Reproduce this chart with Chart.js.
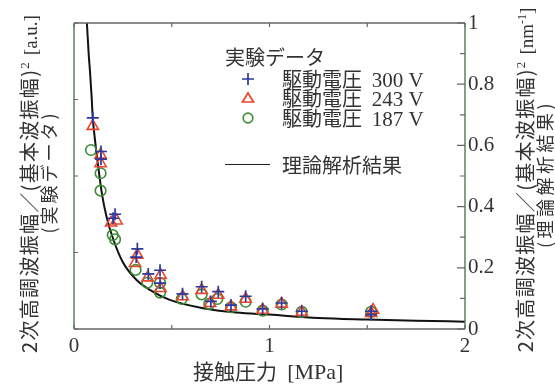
<!DOCTYPE html>
<html>
<head>
<meta charset="utf-8">
<script src="https://cdn.jsdelivr.net/npm/chart.js@4.4.1/dist/chart.umd.min.js"></script>
<style>
  body { margin: 0; background: #fff; }
  #wrap { position: relative; width: 555px; height: 385px; }
  .jp { font-family: "Noto Sans CJK JP", sans-serif; color: #333; }
  .serif { font-family: "Liberation Serif", serif; }
  .abs { position: absolute; white-space: nowrap; line-height: 20px; }
  .vt { transform: translate(-50%, -50%) rotate(-90deg); }
</style>
</head>
<body>
<div id="wrap">
  <canvas id="chart" width="555" height="385"></canvas>

  <div class="abs jp vt" style="left:28px; top:184px; font-size:20px; letter-spacing:1.3px;">2次高調波振幅／(基本波振幅)<sup class="serif" style="font-size:13px;">2</sup> <span class="serif" style="font-size:19px; letter-spacing:0;">[a.u.]</span></div>
  <div class="abs jp vt" style="left:48px; top:172px; font-size:18px; letter-spacing:3px;">(実験データ)</div>
  <div class="abs jp vt" style="left:524px; top:180px; font-size:20px; letter-spacing:1.3px;">2次高調波振幅／(基本波振幅)<sup class="serif" style="font-size:13px;">2</sup> <span class="serif" style="font-size:19px; letter-spacing:0;">[nm<sup style="font-size:12px;">-1</sup>]</span></div>
  <div class="abs jp vt" style="left:544px; top:174px; font-size:18px; letter-spacing:3.5px;">(理論解析結果)</div>
  <div class="abs jp" style="left:193px; top:360px; font-size:21px;">接触圧力 <span class="serif" style="font-size:22px;">&nbsp;[MPa]</span></div>

  <div class="abs jp" style="left:225px; top:47px; font-size:20px;">実験データ</div>
  <svg class="abs" style="left:238px; top:69px;" width="20" height="60">
    <path d="M10 4 V16 M4 10 H16" stroke="#2a3a9e" stroke-width="1.7" fill="none"/>
    <path d="M10 24 L15.5 33 L4.5 33 Z" stroke="#e8452c" stroke-width="1.7" fill="none"/>
    <circle cx="10" cy="49" r="4.8" stroke="#3c8c34" stroke-width="1.7" fill="none"/>
  </svg>
  <div class="abs jp" style="left:282px; top:69px; font-size:20px;">駆動電圧 <span class="serif" style="font-size:21px;">&nbsp;300 V</span></div>
  <div class="abs jp" style="left:282px; top:88px; font-size:20px;">駆動電圧 <span class="serif" style="font-size:21px;">&nbsp;243 V</span></div>
  <div class="abs jp" style="left:282px; top:108px; font-size:20px;">駆動電圧 <span class="serif" style="font-size:21px;">&nbsp;187 V</span></div>
  <div class="abs" style="left:225px; top:164px; width:45px; height:0; border-top:1.3px solid #222;"></div>
  <div class="abs jp" style="left:282px; top:155px; font-size:20px;">理論解析結果</div>
</div>

<script>
// 駆動電圧 300 V (+)
var press300 = [0.096, 0.138, 0.138, 0.21, 0.20, 0.324, 0.318, 0.38, 0.44, 0.44, 0.555, 0.653, 0.70, 0.738, 0.803, 0.878, 0.965, 1.062, 1.165, 1.52, 1.52];
var ratio300 = [0.69, 0.58, 0.555, 0.375, 0.362, 0.262, 0.235, 0.18, 0.192, 0.15, 0.115, 0.138, 0.09, 0.122, 0.078, 0.107, 0.066, 0.085, 0.058, 0.058, 0.047];

// 駆動電圧 243 V (triangle)
var press243 = [0.096, 0.136, 0.136, 0.218, 0.19, 0.324, 0.312, 0.377, 0.443, 0.443, 0.556, 0.653, 0.696, 0.738, 0.803, 0.878, 0.965, 1.062, 1.165, 1.53, 1.52];
var ratio243 = [0.663, 0.569, 0.541, 0.354, 0.347, 0.242, 0.215, 0.168, 0.176, 0.133, 0.106, 0.127, 0.084, 0.111, 0.073, 0.098, 0.062, 0.082, 0.055, 0.062, 0.052];

// 駆動電圧 187 V (circle)
var press187 = [0.087, 0.136, 0.136, 0.198, 0.21, 0.315, 0.375, 0.44, 0.44, 0.551, 0.653, 0.692, 0.733, 0.803, 0.878, 0.965, 1.062, 1.165, 1.52];
var ratio187 = [0.585, 0.509, 0.452, 0.307, 0.293, 0.193, 0.151, 0.151, 0.119, 0.098, 0.113, 0.082, 0.098, 0.071, 0.089, 0.06, 0.08, 0.056, 0.056];

// 理論解析結果 (curve)
var theoryX = [0.066, 0.075, 0.082, 0.09, 0.096, 0.107, 0.124, 0.142, 0.167, 0.2, 0.25, 0.32, 0.39, 0.49, 0.66, 0.83, 1.0, 1.25, 1.5, 1.75, 2.0];
var theoryY = [1.0, 0.9, 0.84, 0.76, 0.69, 0.62, 0.53, 0.445, 0.365, 0.295, 0.218, 0.16, 0.127, 0.095, 0.068, 0.054, 0.047, 0.036, 0.031, 0.027, 0.024];

var xLabels = [0, 1, 2];
var rightLabels = [0, 0.2, 0.4, 0.6, 0.8, 1];

function pts(xs, ys) {
    return xs.map(function (x, i) { return { x: x, y: ys[i] }; });
}

// inward ticks + frame, drawn from the chart's own scales
var frameTicks = {
    id: "frameTicks",
    afterDraw: function (chart) {
        var ctx = chart.ctx, a = chart.chartArea;
        var sx = chart.scales.x, sy = chart.scales.y, sr = chart.scales.y2;
        ctx.save();
        ctx.lineWidth = 1.4;
        ctx.strokeStyle = "#666";
        ctx.beginPath();
        ctx.moveTo(a.left, a.top); ctx.lineTo(a.right, a.top);
        ctx.moveTo(a.left, a.bottom); ctx.lineTo(a.right, a.bottom);
        ctx.stroke();
        ctx.strokeStyle = "#4f7a55";
        ctx.beginPath();
        ctx.moveTo(a.left, a.top); ctx.lineTo(a.left, a.bottom);
        ctx.moveTo(a.right, a.top); ctx.lineTo(a.right, a.bottom);
        ctx.stroke();

        ctx.lineWidth = 1.2;
        ctx.strokeStyle = "#666";
        ctx.beginPath();
        sx.ticks.forEach(function (t) {
            var px = sx.getPixelForValue(t.value);
            ctx.moveTo(px, a.bottom); ctx.lineTo(px, a.bottom - 4);
            ctx.moveTo(px, a.top); ctx.lineTo(px, a.top + 4);
        });
        sy.ticks.forEach(function (t) {
            var py = sy.getPixelForValue(t.value);
            ctx.moveTo(a.left, py); ctx.lineTo(a.left + 4, py);
        });
        sr.ticks.forEach(function (t) {
            var py = sr.getPixelForValue(t.value);
            var major = Math.round(t.value * 10) % 2 === 0;
            ctx.moveTo(a.right, py); ctx.lineTo(a.right - (major ? 8 : 5), py);
        });
        ctx.stroke();
        ctx.restore();
    }
};

var ctx = document.getElementById("chart").getContext("2d");
new Chart(ctx, {
    type: "scatter",
    data: {
        datasets: [{
            label: "駆動電圧 300 V",
            data: pts(press300, ratio300),
            yAxisID: "y2",
            pointStyle: "cross",
            pointRadius: 6,
            borderColor: "#2a3a9e",
            borderWidth: 1.7,
            backgroundColor: "transparent"
        }, {
            label: "駆動電圧 243 V",
            data: pts(press243, ratio243),
            yAxisID: "y2",
            pointStyle: "triangle",
            pointRadius: 6.5,
            borderColor: "#e8452c",
            borderWidth: 1.6,
            backgroundColor: "transparent"
        }, {
            label: "駆動電圧 187 V",
            data: pts(press187, ratio187),
            yAxisID: "y2",
            pointStyle: "circle",
            pointRadius: 5.3,
            borderColor: "#3c8c34",
            borderWidth: 1.6,
            backgroundColor: "transparent"
        }, {
            type: "line",
            label: "理論解析結果",
            data: pts(theoryX, theoryY),
            yAxisID: "y2",
            borderColor: "#111",
            borderWidth: 2,
            pointRadius: 0,
            cubicInterpolationMode: "monotone",
            fill: false
        }]
    },
    options: {
        responsive: false,
        animation: false,
        layout: { padding: { top: 23, left: 0, right: 0, bottom: 0 } },
        plugins: { legend: { display: false }, tooltip: { enabled: false } },
        scales: {
            x: {
                type: "linear",
                min: 0,
                max: 2,
                grid: { display: false, drawTicks: false },
                border: { display: false },
                ticks: {
                    stepSize: 0.5,
                    padding: 5,
                    maxRotation: 0,
                    autoSkip: false,
                    font: { family: "Liberation Serif", size: 21 },
                    color: "#333",
                    callback: function (v) { return xLabels.indexOf(v) >= 0 ? String(v) : ""; }
                },
                afterFit: function (s) { s.height = 56; }
            },
            y: {
                position: "left",
                min: 0,
                max: 1,
                grid: { display: false, drawTicks: false },
                border: { display: false },
                ticks: { stepSize: 0.25, display: false },
                afterFit: function (s) { s.width = 74; }
            },
            y2: {
                position: "right",
                min: 0,
                max: 1,
                grid: { display: false, drawTicks: false },
                border: { display: false },
                ticks: {
                    stepSize: 0.1,
                    padding: 3,
                    autoSkip: false,
                    font: { family: "Liberation Serif", size: 21 },
                    color: "#333",
                    callback: function (v) {
                        var r = Math.round(v * 10) / 10;
                        return rightLabels.indexOf(r) >= 0 ? String(r) : "";
                    }
                },
                afterFit: function (s) { s.width = 90; }
            }
        }
    },
    plugins: [frameTicks]
});
</script>
</body>
</html>
